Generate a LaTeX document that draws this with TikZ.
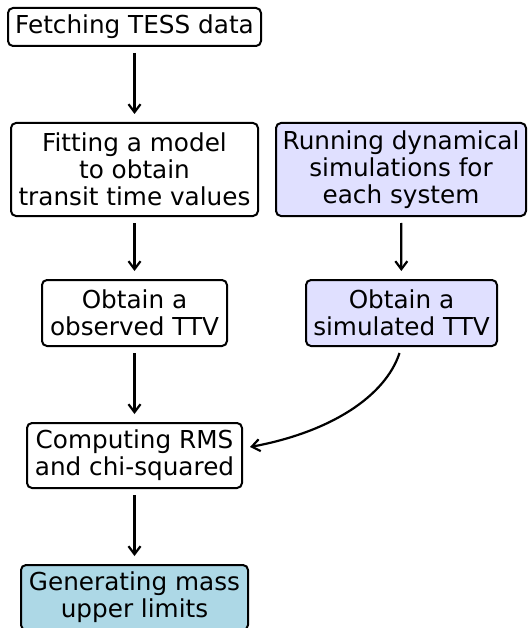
\documentclass[tikz,border=0pt]{standalone}
\usepackage{fontspec}
\setmainfont{DejaVu Sans}
\usetikzlibrary{arrows.meta, positioning, calc}
\definecolor{simcolor}{RGB}{224,224,255}
\definecolor{resultcolor}{RGB}{173,216,230}

\begin{document}
\begin{tikzpicture}[
    x=1pt, y=-1pt,
    stepbox/.style={rectangle, draw, line width=2pt, rounded corners=5pt, align=center, inner sep=0pt, font=\fontsize{24.7}{27}\selectfont},
    simbox/.style={stepbox, fill=simcolor},
    resultbox/.style={stepbox, fill=resultcolor},
    arrow/.style={-{Straight Barb[length=8pt, width=12pt]}, line width=2.2pt, shorten <=6pt, shorten >=8pt}
]
    \useasboundingbox (0,0) rectangle (527,628);

    % Observation branch
    \node[stepbox, minimum width=253pt, minimum height=38pt] (fetch) at (134.5,27) {Fetching TESS data};
    \node[stepbox, minimum width=247pt, minimum height=93pt] (fit) at (134.5,169.5) {Fitting a model\\to obtain\\transit time values};
    \node[stepbox, minimum width=185pt, minimum height=66pt] (obsttv) at (134.5,313) {Obtain a\\observed TTV};

    % Simulation branch
    \node[simbox, minimum width=250pt, minimum height=93pt] (sim) at (401,169.5) {Running dynamical\\simulations for\\each system};
    \node[simbox, minimum width=191pt, minimum height=66pt] (simttv) at (401.5,313) {Obtain a\\simulated TTV};

    % Comparison and result
    \node[stepbox, minimum width=215pt, minimum height=65pt] (rms) at (134.5,455.5) {Computing RMS\\and chi-squared};
    \node[resultbox, minimum width=227pt, minimum height=65pt] (limits) at (134.5,597.5) {Generating mass\\upper limits};

    % Arrows
    \draw[arrow] (fetch) -- (fit);
    \draw[arrow] (fit) -- (obsttv);
    \draw[arrow] (obsttv) -- (rms);
    \draw[arrow] (rms) -- (limits);
    \draw[arrow] (sim) -- (simttv);
    \draw[arrow, shorten <=0pt, shorten >=0pt] ([shift={(-2,6)}]simttv.south) .. controls +(-14,43) and +(81,-15) .. ([shift={(7,-8.5)}]rms.east);

\end{tikzpicture}
\end{document}
